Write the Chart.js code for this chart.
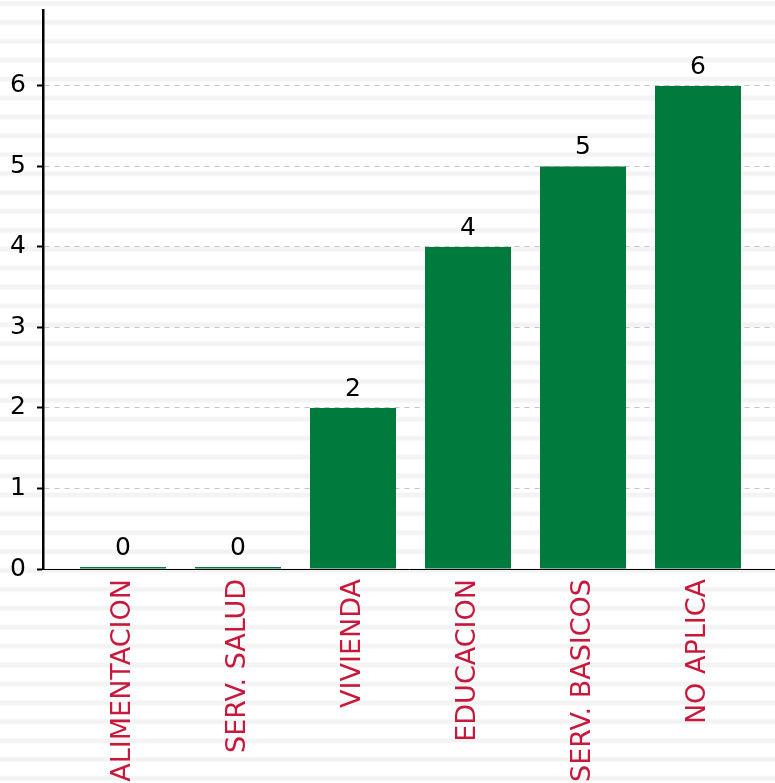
<!DOCTYPE html>
<html>
<head>
<meta charset="utf-8">
<script src="https://cdn.jsdelivr.net/npm/chart.js@4/dist/chart.umd.min.js"></script>
<style>
html,body{margin:0;padding:0;background:#fff;}
#wrap{width:775px;height:783px;position:relative;}
</style>
</head>
<body>
<div id="wrap"><canvas id="c"></canvas></div>
<script>
const categories = ['ALIMENTACION', 'SERV. SALUD', 'VIVIENDA', 'EDUCACION', 'SERV. BASICOS', 'NO APLICA'];
const values = [0, 0, 2, 4, 5, 6];
const yTicks = [0, 1, 2, 3, 4, 5, 6];

const FONT = "'DejaVu Sans', sans-serif";

const stripes = {
  id: 'stripes',
  beforeDraw(chart) {
    const ctx = chart.ctx;
    ctx.save();
    ctx.fillStyle = '#ffffff';
    ctx.fillRect(0, 0, chart.width, chart.height);
    for (let y = 1.5; y < chart.height; y += 18.9) {
      ctx.fillStyle = 'rgba(0,0,0,0.018)';
      ctx.fillRect(0, y - 1, chart.width, 6);
      ctx.fillStyle = 'rgba(0,0,0,0.026)';
      ctx.fillRect(0, y, chart.width, 4);
    }
    ctx.restore();
  }
};

const valueLabels = {
  id: 'valueLabels',
  afterDatasetsDraw(chart) {
    const ctx = chart.ctx;
    const meta = chart.getDatasetMeta(0);
    ctx.save();
    ctx.font = '25px ' + FONT;
    ctx.fillStyle = '#000';
    ctx.textAlign = 'center';
    ctx.textBaseline = 'alphabetic';
    meta.data.forEach((bar, i) => {
      ctx.fillText(String(values[i]), bar.x, bar.y - 12);
    });
    ctx.restore();
  }
};

new Chart(document.getElementById('c'), {
  type: 'bar',
  data: {
    datasets: [{
      data: values.map((v, i) => ({ x: i, y: v })),
      backgroundColor: '#007a3d',
      borderWidth: 0,
      minBarLength: 2,
      categoryPercentage: 1,
      barPercentage: 0.748
    }]
  },
  options: {
    responsive: true,
    maintainAspectRatio: false,
    animation: false,
    layout: { padding: { top: 10, left: 0, right: 0, bottom: 0 } },
    plugins: { legend: { display: false }, tooltip: { enabled: false } },
    scales: {
      x: {
        type: 'linear',
        offset: false,
        min: -0.6957,
        max: 5.6696,
        afterBuildTicks(scale) { scale.ticks = categories.map((_, i) => ({ value: i })); },
        afterFit(scale) { scale.height = 214; scale.paddingLeft = 0; scale.paddingRight = 0; },
        ticks: {
          autoSkip: false,
          minRotation: 90,
          maxRotation: 90,
          padding: 10,
          color: '#c8193c',
          font: { family: FONT, size: 27 },
          callback: (v) => categories[v]
        },
        grid: { display: false, drawTicks: false, offset: false },
        border: { display: true, color: '#000', width: 1 }
      },
      y: {
        min: 0,
        max: 6.944,
        afterBuildTicks(scale) { scale.ticks = yTicks.map(v => ({ value: v })); },
        afterFit(scale) { scale.width = 43; scale.paddingTop = 0; scale.paddingBottom = 0; },
        ticks: {
          color: '#000',
          padding: 11,
          font: { family: FONT, size: 25 },
          callback: (v) => String(v)
        },
        grid: {
          color: '#c4c4c4',
          lineWidth: 1,
          tickLength: 6,
          tickColor: '#000',
          tickWidth: 2,
          tickBorderDash: []
        },
        border: { display: true, color: '#000', width: 2.5, dash: [5, 5] }
      }
    }
  },
  plugins: [stripes, valueLabels]
});
</script>
</body>
</html>
